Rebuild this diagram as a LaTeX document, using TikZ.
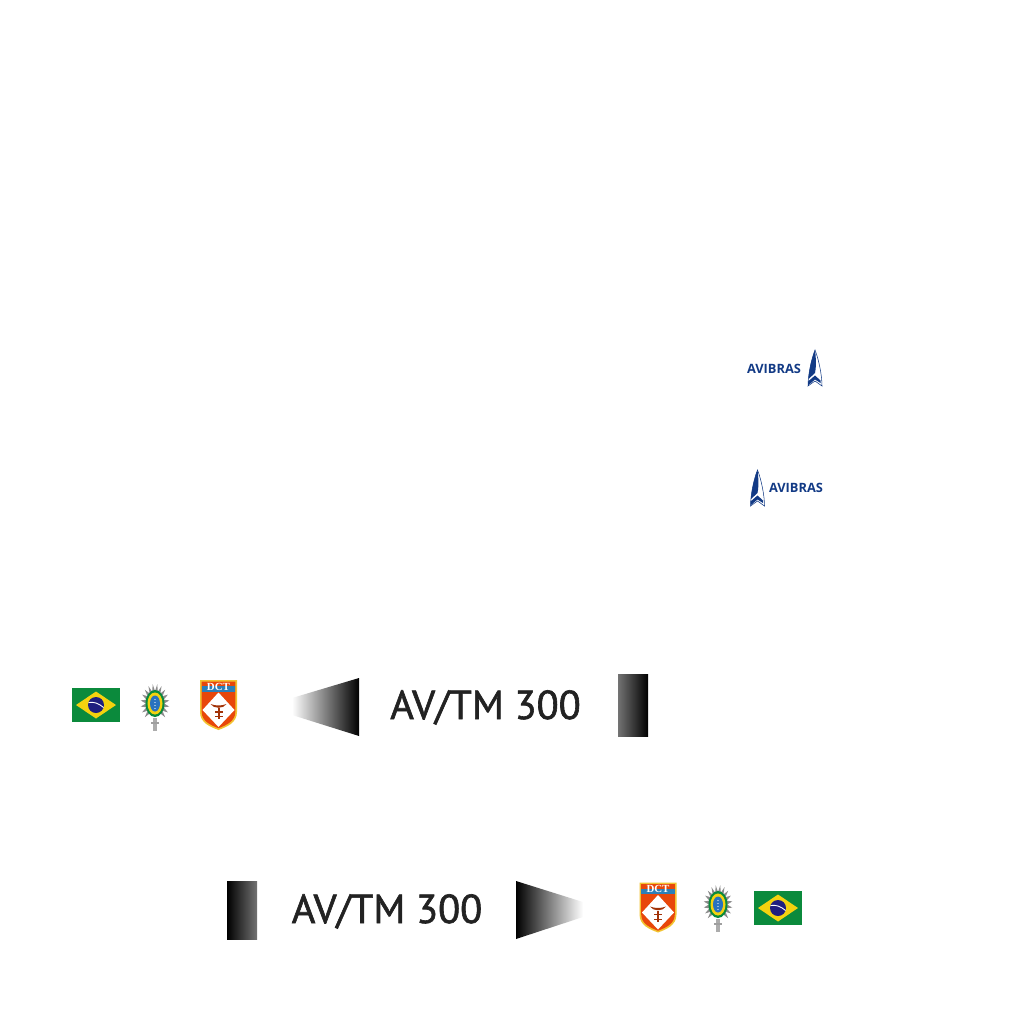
\documentclass[tikz,border=0pt]{standalone}
\usepackage{fontspec}
\setmainfont[FakeBold=1.5]{PT Sans}
\newfontfamily\dctfont{Liberation Serif}
\newfontfamily\logofont{Open Sans}
\usepackage{xcolor}
\usetikzlibrary{positioning}

\definecolor{flaggreen}{HTML}{0B8A3C}
\definecolor{flagyellow}{HTML}{F4D20F}
\definecolor{flagblue}{HTML}{1F1F7F}
\definecolor{shieldred}{HTML}{E8470A}
\definecolor{shieldgold}{HTML}{F2C230}
\definecolor{shieldblue}{HTML}{2C7FB8}
\definecolor{logoblue}{HTML}{123A85}
\definecolor{titlegray}{HTML}{222222}

\tikzset{
    titletext/.style={font=\fontsize{11.5}{11.5}\selectfont, text=titlegray, inner sep=0pt, anchor=base},
    logotext/.style={font=\logofont\bfseries\fontsize{3.65}{3.65}\selectfont, text=logoblue, inner sep=0pt},
    brazilflag/.pic={
        \fill[flaggreen] (-24,-17) rectangle (24,17);
        \fill[flagyellow] (-20,0) -- (0,-13.5) -- (20,0) -- (0,13.5) -- cycle;
        \fill[flagblue] (0,0) circle (8);
        \draw[white, line width=0.25pt] (-7.5,-2.5) .. controls (-2,-3.5) and (3,-1.5) .. (7.5,2.5);
    },
    armyemblem/.pic={
        \fill[gray!65] (-2,10) rectangle (2,23);
        \fill[gray!75] (-4,14) rectangle (4,16.5);
        \begin{scope}[shift={(0,-4)}, xscale=0.74]
            \foreach \ang in {-135,-117,...,135} {
                \fill[black!45, rotate=\ang] (-2,-12) -- (0,-19.5) -- (2,-12) -- cycle;
            }
        \end{scope}
        \fill[flaggreen] (0,-4) ellipse (9.5 and 13.5);
        \fill[flagyellow] (0,-4) ellipse (7.5 and 11);
        \fill[shieldblue!90!blue] (0,-4) ellipse (5 and 8);
        \foreach \dy in {-8,-5,-2,1} {
            \fill[white] (0,\dy) circle (0.6);
        }
    },
    dctshield/.pic={
        \fill[shieldgold] (-18.5,-25) -- (18.5,-25) -- (18.5,7)
            .. controls (18.5,18) and (8,22) .. (0,25)
            .. controls (-8,22) and (-18.5,18) .. (-18.5,7) -- cycle;
        \fill[shieldred] (-16.8,-23.3) -- (16.8,-23.3) -- (16.8,7)
            .. controls (16.8,16.5) and (7,20.5) .. (0,23.2)
            .. controls (-7,20.5) and (-16.8,16.5) .. (-16.8,7) -- cycle;
        \fill[shieldblue] (-16.8,-19) rectangle (16.8,-13.5);
        \node[text=white, inner sep=0pt, font=\dctfont\bfseries\fontsize{3.1}{3.1}\selectfont] at (0,-18.5) {DCT};
        \fill[white] (0,-12.5) -- (16,5) -- (0,22) -- (-16,5) -- cycle;
        \fill[shieldred!70!black] (-8,-1) .. controls (-5,4) and (5,4) .. (8,-1)
            .. controls (3,1) and (-3,1) .. (-8,-1) -- cycle;
        \fill[shieldred!70!black] (-4,6) rectangle (4,7.5);
        \fill[shieldred!70!black] (-1,3) rectangle (1,14);
        \fill[shieldred!70!black] (-4,11) rectangle (4,12);
    },
    avrocket/.pic={
        \draw[logoblue, line width=0.15pt, fill=white] (0,-18) .. controls (4,-8) and (7,8) .. (7,18)
            -- (0,13) -- (-7,18) .. controls (-7,8) and (-4,-8) .. (0,-18) -- cycle;
        \fill[logoblue] (0,-18) .. controls (-4,-8) and (-6.5,6) .. (-6.5,11) -- (0,5)
            .. controls (1.5,-3) and (1,-10) .. (0,-18) -- cycle;
        \fill[logoblue] (-7,13.5) -- (0,7.5) -- (5.5,12.5) -- (5.5,15) -- (0,11.5) -- (-7,17.5) -- cycle;
    }
}

\begin{document}
\begin{tikzpicture}[x=0.01cm, y=-0.01cm]
    \useasboundingbox (0,0) rectangle (1024,1024);

    % avibras logos
    \node[logotext] (avibrasA) at (774,369) {AVIBRAS};
    \pic at (815,368) {avrocket};
    \node[logotext] (avibrasB) at (796,488) {AVIBRAS};
    \pic at (757.5,488) {avrocket};

    % upper row
    \pic at (96,705) {brazilflag};
    \pic at (155,707.5) {armyemblem};
    \pic at (218.5,705) {dctshield};
    \shade[left color=white, right color=black] (292,698) -- (359,678) -- (359,736) -- (292,715) -- cycle;
    \node[titletext] (titleA) at (485.5,719) {AV/TM 300};
    \shade[left color=black!55, right color=black] (618,674) rectangle (648,736);

    % lower row
    \shade[left color=black, right color=black!55] (227,881) rectangle (257,939);
    \node[titletext] (titleB) at (387,923) {AV/TM 300};
    \shade[left color=black, right color=white] (516,881) -- (583,902) -- (583,917) -- (516,939) -- cycle;
    \pic at (658,907.5) {dctshield};
    \pic at (718,908.5) {armyemblem};
    \pic at (778,908) {brazilflag};
\end{tikzpicture}
\end{document}
